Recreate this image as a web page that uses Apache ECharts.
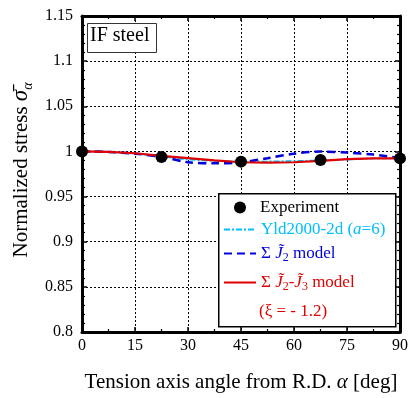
<!DOCTYPE html>
<html>
<head>
<meta charset="utf-8">
<script src="https://cdn.jsdelivr.net/npm/echarts@6/dist/echarts.min.js"></script>
<style>
  html, body { margin: 0; padding: 0; background: #fff; }
  #chart { width: 411px; height: 398px; }
</style>
</head>
<body>
<div id="chart"></div>
<script>
// angle grid for the model curves
const angles = [0, 7.5, 15, 22.5, 30, 37.5, 45, 52.5, 60, 67.5, 75, 82.5, 90];
const yldValues = [1.0, 0.9995, 0.998, 0.9945, 0.991, 0.9895, 0.9885, 0.9888, 0.9893, 0.990, 0.991, 0.9922, 0.9925];
const j2Values = [1.0, 0.9995, 0.9975, 0.994, 0.988, 0.9868, 0.988, 0.9925, 0.9975, 0.9998, 0.9988, 0.9965, 0.9928];
const j2j3Values = [1.0, 0.9995, 0.998, 0.995, 0.9926, 0.990, 0.988, 0.9877, 0.988, 0.9895, 0.9915, 0.9922, 0.9923];

// experiment
const expAngles = [0, 22.5, 45, 67.5, 90];
const expValues = [1.0, 0.9937, 0.9887, 0.9905, 0.9923];

const xTicks = [0, 15, 30, 45, 60, 75, 90];
const yMin = 0.8, yMax = 1.15, yStep = 0.05;

const FONT = '"Liberation Serif", "DejaVu Serif", serif';
const RED = '#e00000', BLUE = '#0000dd', CYAN = '#00bfff';

const pairs = (xs, ys) => xs.map((x, i) => [x, ys[i]]);

const chart = echarts.init(document.getElementById('chart'));

const axisCommon = {
  axisLine: { show: true, onZero: false, lineStyle: { color: '#000', width: 3 } },
  axisTick: { show: true, inside: true, length: 5, lineStyle: { color: '#000', width: 1.5 } },
  minorTick: { show: true, length: 3, lineStyle: { color: '#000', width: 1.2 } }
};

const rich = {
  n: { fontFamily: FONT, fontSize: 17, lineHeight: 22, verticalAlign: 'middle' },
  i: { fontFamily: FONT, fontSize: 17, fontStyle: 'italic', lineHeight: 22, verticalAlign: 'middle' },
  s: { fontFamily: FONT, fontSize: 12, lineHeight: 12, verticalAlign: 'middle', padding: [9, 0, 0, 0] }
};

function legendAt(name, top, color) {
  const isExp = name === 'Experiment';
  return {
    show: true, left: isExp ? 234 : 223, top: top, orient: 'vertical', padding: 0, z: 20,
    itemWidth: isExp ? 12 : 32, itemHeight: 12, itemGap: 0,
    itemStyle: isExp ? {} : { opacity: 0 },
    data: [{ name: name, textStyle: { color: color } }],
    textStyle: { fontFamily: FONT, fontSize: 17, color: color, padding: isExp ? [0, 0, 0, 9] : 0, rich: rich },
    formatter: function (nm) {
      if (nm === 'Experiment') return 'Experiment';
      if (nm === 'Yld') return '{n|Yld2000-2d (}{i|a}{n|=6)}';
      if (nm === 'J2') return '{n|Σ }{i|J̃}{s|2}{n| model}';
      return '{n|Σ }{i|J̃}{s|2}{n|-}{i|J̃}{s|3}{n| model}';
    }
  };
}

const option = {
  animation: false,
  backgroundColor: '#fff',
  grid: { left: 82, right: 8, top: 16, bottom: 64 },
  xAxis: [
    Object.assign({}, axisCommon, {
      type: 'value', min: 0, max: 90, interval: 15, position: 'bottom',
      minorTick: Object.assign({}, axisCommon.minorTick, { splitNumber: 2 }),
      axisLabel: {
        color: '#000', fontFamily: FONT, fontSize: 16, margin: 6,
        formatter: v => (xTicks.indexOf(v) >= 0 ? String(v) : '')
      },
      splitLine: { show: true, lineStyle: { color: '#000', width: 1, type: [2, 2] } },
      name: '{n|Tension axis angle from R.D. }{i|α}{n| [deg]}',
      nameLocation: 'middle', nameGap: 40,
      nameTextStyle: { color: '#000', rich: {
        n: { fontFamily: FONT, fontSize: 21, color: '#000' },
        i: { fontFamily: FONT, fontSize: 21, fontStyle: 'italic', color: '#000' }
      } }
    }),
    Object.assign({}, axisCommon, {
      type: 'value', min: 0, max: 90, interval: 15, position: 'top',
      minorTick: Object.assign({}, axisCommon.minorTick, { splitNumber: 2 }),
      axisLabel: { show: false }, splitLine: { show: false }
    })
  ],
  yAxis: [
    Object.assign({}, axisCommon, {
      type: 'value', min: yMin, max: yMax, interval: yStep, position: 'left',
      minorTick: Object.assign({}, axisCommon.minorTick, { splitNumber: 5 }),
      axisLabel: {
        color: '#000', fontFamily: FONT, fontSize: 16, margin: 9,
        formatter: v => String(Math.round(v * 100) / 100)
      },
      splitLine: { show: true, lineStyle: { color: '#000', width: 1, type: [2, 2] } }
    }),
    Object.assign({}, axisCommon, {
      type: 'value', min: yMin, max: yMax, interval: yStep, position: 'right',
      minorTick: Object.assign({}, axisCommon.minorTick, { splitNumber: 5 }),
      axisLabel: { show: false }, splitLine: { show: false }
    })
  ],
  legend: [
    legendAt('Experiment', 199, '#000'),
    legendAt('Yld', 221, CYAN),
    legendAt('J2', 243, BLUE),
    legendAt('J2J3', 272, RED)
  ],
  graphic: [
    {
      type: 'rect', left: 218, top: 193, z: 1,
      shape: { width: 177, height: 133 },
      style: { fill: '#fff', stroke: '#000', lineWidth: 1.5 }
    },
    {
      type: 'text', left: 259, top: 303, z: 10,
      style: { text: '(ξ = - 1.2)', fill: RED, fontFamily: FONT, fontSize: 17 }
    },
    {
      type: 'rect', left: 87, top: 23, z: 1,
      shape: { width: 69, height: 29 },
      style: { fill: '#fff', stroke: '#333', lineWidth: 1 }
    },
    {
      type: 'text', left: 90, top: 26, z: 10,
      style: { text: 'IF steel', fill: '#000', fontFamily: FONT, fontSize: 20 }
    },
    {
      type: 'text', x: 21, y: 170, rotation: Math.PI / 2, z: 10,
      style: {
        text: '{n|Normalized stress }{g|σ̄}{s|α}',
        align: 'center', verticalAlign: 'middle',
        rich: {
          n: { fontFamily: FONT, fontSize: 21, fill: '#000', lineHeight: 28, verticalAlign: 'middle' },
          g: { fontFamily: FONT, fontSize: 23, fontStyle: 'italic', fill: '#000', lineHeight: 28, verticalAlign: 'middle' },
          s: { fontFamily: FONT, fontSize: 14, fontStyle: 'italic', fill: '#000', lineHeight: 28, verticalAlign: 'bottom' }
        }
      }
    }
  ],
  series: [
    {
      name: 'Yld', type: 'line', data: pairs(angles, yldValues), symbol: 'none', z: 3,
      lineStyle: { color: CYAN, width: 1.8, type: [6, 2, 2, 2] }, itemStyle: { color: CYAN }
    },
    {
      name: 'J2', type: 'line', data: pairs(angles, j2Values), symbol: 'none', smooth: 0.3, z: 4,
      lineStyle: { color: BLUE, width: 2.5, type: [8, 5] }, itemStyle: { color: BLUE }
    },
    {
      name: 'J2J3', type: 'line', data: pairs(angles, j2j3Values), symbol: 'none', z: 5,
      lineStyle: { color: RED, width: 2.2 }, itemStyle: { color: RED }
    },
    {
      name: 'Experiment', type: 'scatter', data: pairs(expAngles, expValues), z: 6,
      symbol: 'circle', symbolSize: 12, itemStyle: { color: '#000', opacity: 1 }
    }
  ]
};

chart.setOption(option);
</script>
</body>
</html>
